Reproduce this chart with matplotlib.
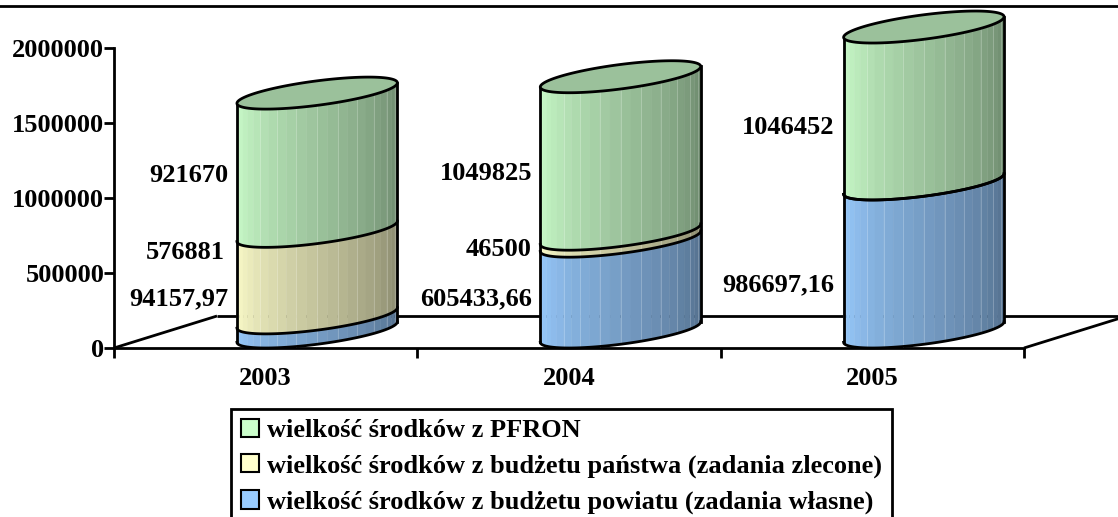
#!/usr/bin/env python3
"""Stacked 3D-look cylinder chart of funding sources, 2003-2005"""

import numpy as np
import matplotlib
matplotlib.use('Agg')
import matplotlib.pyplot as plt
from matplotlib.colors import to_rgb
from matplotlib.lines import Line2D
from matplotlib.patches import Patch, Polygon

plt.rcParams['font.family'] = ['Liberation Serif', 'DejaVu Serif']
plt.rcParams['font.weight'] = 'bold'

# Data
years = ['2003', '2004', '2005']
powiat = [94157.97, 605433.66, 986697.16]
panstwo = [576881, 46500, 0]
pfron = [921670, 1049825, 1046452]
y_ticks = [0, 500000, 1000000, 1500000, 2000000]
legend_labels = ['wielkość środków z PFRON',
                 'wielkość środków z budżetu państwa (zadania zlecone)',
                 'wielkość środków z budżetu powiatu (zadania własne)']

# Colours: (light side, dark side)
powiat_cols = ('#99ccff', '#526d8a')
panstwo_cols = ('#ffffcc', '#85856a')
pfron_cols = ('#ccffcc', '#6b866b')
top_col = '#9bc19b'

W, H = 1118, 517
fig = plt.figure(figsize=(W / 100, H / 100), dpi=100)
ax = fig.add_axes([114 / W, (H - 348) / H, 910 / W, 300 / H])
ax.set_xlim(0, 3)
ax.set_ylim(0, 2000000)
ax.patch.set_visible(False)

# floor depth in data units
depth_x = 103 / (910 / 3)
depth_y = 32 * 2000000 / 300
bar_w = 123 / (910 / 3)

# skewed footprint of the cylinder
tip = np.arctan2(depth_x / 2, bar_w / 2)


def ring(cx, val, t):
    px = cx + depth_x / 2 + bar_w / 2 * np.cos(t) + depth_x / 2 * np.sin(t)
    py = val + depth_y / 2 + depth_y / 2 * np.sin(t)
    return px, py


def front_t(n):
    # from the left tip round the front to the right tip
    return np.linspace(np.pi + tip, 2 * np.pi + tip, n)


def draw_segment(cx, lo, hi, cols):
    c0, c1 = np.array(to_rgb(cols[0])), np.array(to_rgb(cols[1]))
    ts = front_t(25)
    for k in range(len(ts) - 1):
        tt = np.linspace(ts[k], ts[k + 1], 4)
        x, y0 = ring(cx, lo, tt)
        _, y1 = ring(cx, hi, tt)
        pts = np.r_[np.c_[x, y0], np.c_[x[::-1], y1[::-1]]]
        col = c0 + (c1 - c0) * k / (len(ts) - 2)
        ax.add_patch(Polygon(pts, closed=True, fc=col, ec=col, lw=0.3, zorder=3, clip_on=False))
        if k % 2 == 1 and 4 < k < 23:
            light = col + (1 - col) * 0.25
            ax.plot(x[[-1, -1]], [y0[-1], y1[-1]], color=light, lw=0.6, zorder=3.1, clip_on=False)


# Floor
floor_kw = dict(color='black', lw=2, clip_on=False, zorder=1, solid_capstyle='butt')
ax.plot([0, depth_x], [0, depth_y], **floor_kw)
ax.plot([depth_x, 3 + depth_x], [depth_y, depth_y], **floor_kw)
ax.plot([3, 3 + depth_x], [0, depth_y], **floor_kw)

# Cylinders
for i in range(3):
    cx = i + 0.5
    levels = [0, powiat[i], powiat[i] + panstwo[i], powiat[i] + panstwo[i] + pfron[i]]
    for lo, hi, cols in zip(levels[:-1], levels[1:], [powiat_cols, panstwo_cols, pfron_cols]):
        if hi > lo:
            draw_segment(cx, lo, hi, cols)
    tt = front_t(80)
    # bottom and dividers
    for val in levels[:-1]:
        x, y = ring(cx, val, tt)
        if val == levels[0] or val == levels[1] or (val == levels[2] and panstwo[i] > 0):
            ax.plot(x, y, color='black', lw=2, zorder=4, clip_on=False)
    # sides
    lx, ly0 = ring(cx, levels[0], np.pi + tip)
    _, ly1 = ring(cx, levels[3], np.pi + tip)
    rx, ry0 = ring(cx, levels[0], tip)
    _, ry1 = ring(cx, levels[3], tip)
    ax.plot([lx, lx], [ly0, ly1], color='black', lw=2, zorder=4, clip_on=False)
    ax.plot([rx, rx], [ry0, ry1], color='black', lw=2, zorder=4, clip_on=False)
    # top
    x, y = ring(cx, levels[3], np.linspace(0, 2 * np.pi, 160))
    ax.add_patch(Polygon(np.c_[x, y], closed=True, fc=top_col, ec='black', lw=2,
                         zorder=5, clip_on=False))

# Value labels, placed by hand as in the source: (right edge px, centre px)
label_px = [('921670', 228, 176), ('576881', 225, 253), ('94157,97', 228, 299),
            ('1049825', 532, 173), ('46500', 531, 249), ('605433,66', 532, 299),
            ('1046452', 834, 127), ('986697,16', 834, 285)]
for txt, px, py in label_px:
    fig.text(px / W, 1 - py / H, txt, ha='right', va='center', fontsize=19, fontweight='bold')

# Axes
for s in ['top', 'right']:
    ax.spines[s].set_visible(False)
for s in ['left', 'bottom']:
    ax.spines[s].set_linewidth(2)
    ax.spines[s].set_zorder(2)
ax.set_yticks(y_ticks)
ax.set_yticklabels([str(v) for v in y_ticks], fontsize=19, fontweight='bold')
ax.set_xticks([0, 1, 2, 3])
ax.set_xticklabels([])
ax.set_xticks([0.5, 1.5, 2.5], minor=True)
ax.set_xticklabels(years, minor=True, fontsize=19, fontweight='bold')
ax.tick_params(axis='x', which='minor', length=0, pad=14)
ax.tick_params(axis='x', which='major', length=7, width=2)
ax.tick_params(axis='y', length=7, width=2, pad=0)

# Top rule
fig.add_artist(Line2D([0, 1], [1 - 5.5 / H, 1 - 5.5 / H], color='black', lw=2))

# Legend, cut by the bottom edge of the picture
handles = [Patch(fc=pfron_cols[0], ec='black', lw=1.5),
           Patch(fc=panstwo_cols[0], ec='black', lw=1.5),
           Patch(fc=powiat_cols[0], ec='black', lw=1.5)]
leg = fig.legend(handles, legend_labels, loc='upper left',
                 bbox_to_anchor=(231 / W, 1 - 408.5 / H), borderaxespad=0,
                 prop={'size': 19, 'weight': 'bold'},
                 fancybox=False, framealpha=1, edgecolor='black',
                 handlelength=0.68, handleheight=0.68, handletextpad=0.3,
                 labelspacing=0.47, borderpad=0.38)
leg.get_frame().set_linewidth(2)

fig.savefig('out.png', dpi=100)
